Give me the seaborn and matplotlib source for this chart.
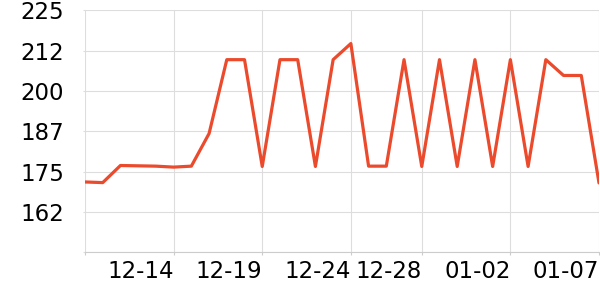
import matplotlib
matplotlib.use("Agg")
import matplotlib.pyplot as plt
import seaborn as sns

dates = ["12-09", "12-10", "12-11", "12-12", "12-13", "12-14", "12-15", "12-16",
         "12-17", "12-18", "12-19", "12-20", "12-21", "12-22", "12-23", "12-24",
         "12-25", "12-26", "12-27", "12-28", "12-29", "12-30", "12-31", "01-01",
         "01-02", "01-03", "01-04", "01-05", "01-06", "01-07"]
values = [171.8, 171.6, 176.9, 176.8, 176.7, 176.4, 176.7, 186.8,
          209.7, 209.7, 176.6, 209.7, 209.7, 176.6, 209.7, 214.7,
          176.7, 176.7, 209.7, 176.6, 209.7, 176.6, 209.7, 176.6,
          209.7, 176.6, 209.7, 204.8, 204.8, 171.5]
x_tick_dates = ["12-09", "12-14", "12-19", "12-24", "12-28", "01-02", "01-07"]
x_tick_labels = ["", "12-14", "12-19", "12-24", "12-28", "01-02", "01-07"]
y_ticks = [150, 162.5, 175, 187.5, 200, 212.5, 225]
y_tick_labels = ["", "162", "175", "187", "200", "212", "225"]

sns.set_theme(style="white")
plt.rcParams["font.family"] = ["DejaVu Sans"]

fig = plt.figure(figsize=(6, 3), dpi=100)
ax = fig.add_axes([85 / 600, 1 - 252.3 / 300, (599 - 85) / 600, (252.3 - 10.3) / 300])

sns.lineplot(x=dates, y=values, sort=False, ax=ax, color="#eb4a2c",
             linewidth=2.3, zorder=3)

ax.set_xlim(0, len(dates) - 1)
ax.set_ylim(150, 225)
ax.set_xticks([dates.index(d) for d in x_tick_dates])
ax.set_xticklabels(x_tick_labels, ha="right")
ax.set_yticks(y_ticks)
ax.set_yticklabels(y_tick_labels)

ax.grid(True, color="#dddddd", linewidth=0.8)
ax.set_axisbelow(True)
for s in ["top", "right", "left"]:
    ax.spines[s].set_visible(False)
ax.spines["bottom"].set_color("#cccccc")
ax.spines["bottom"].set_linewidth(0.8)
ax.tick_params(axis="x", length=2.2, width=0.8, color="#cccccc", pad=3.7,
               labelsize=16.5, labelcolor="black", bottom=True)
ax.tick_params(axis="y", length=1.5, width=0.8, color="#dddddd", pad=13.4,
               labelsize=16.5, labelcolor="black", left=True)
ax.set_xlabel("")
ax.set_ylabel("")

fig.savefig("out.png", dpi=100)
